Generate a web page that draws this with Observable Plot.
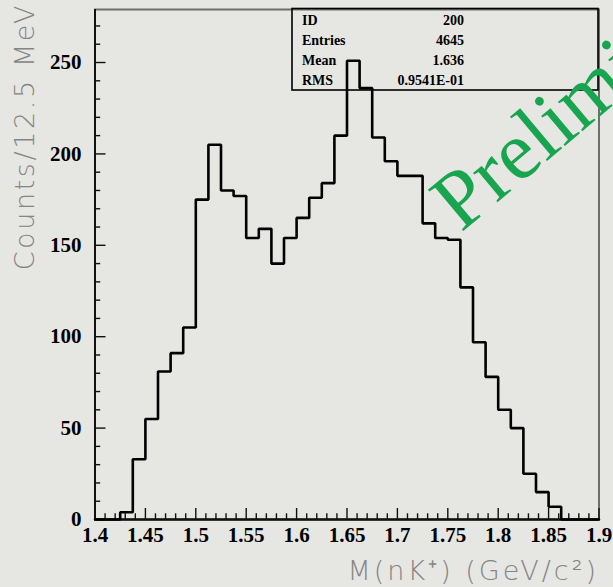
<!DOCTYPE html>
<html><head><meta charset="utf-8">
<script src="https://cdn.jsdelivr.net/npm/d3@7"></script>
<script src="https://cdn.jsdelivr.net/npm/@observablehq/plot@0.6"></script>
<style>
html,body{margin:0;padding:0;background:#e6e6e3;}
#chart{width:613px;height:587px;overflow:hidden;position:relative;}
</style></head><body><div id="chart"></div>
<script>
// Histogram: 40 bins of 12.5 MeV from 1.4 to 1.9 GeV/c^2
const binEdges = [1.4, 1.4125, 1.425, 1.4375, 1.45, 1.4625, 1.475, 1.4875, 1.5, 1.5125,
  1.525, 1.5375, 1.55, 1.5625, 1.575, 1.5875, 1.6, 1.6125, 1.625, 1.6375,
  1.65, 1.6625, 1.675, 1.6875, 1.7, 1.7125, 1.725, 1.7375, 1.75, 1.7625,
  1.775, 1.7875, 1.8, 1.8125, 1.825, 1.8375, 1.85, 1.8625, 1.875, 1.8875, 1.9];
const counts = [0, 0, 4, 33, 55, 81, 91, 105, 175, 205,
  180, 177, 154, 159, 140, 154, 165, 176, 184, 210,
  251, 236, 209, 196, 188, 188, 162, 154, 153, 127,
  97, 78, 60, 50, 25, 15, 7, 0, 0, 0];
const yTicks = [0, 50, 100, 150, 200, 250];
const xTicks = [1.4, 1.45, 1.5, 1.55, 1.6, 1.65, 1.7, 1.75, 1.8, 1.85, 1.9];
const xTickLabels = ["1.4", "1.45", "1.5", "1.55", "1.6", "1.65", "1.7", "1.75", "1.8", "1.85", "1.9"];
const statLabels = ["ID", "Entries", "Mean", "RMS"];
const statValues = ["200", "4645", "1.636", "0.9541E-01"];
const xTitle = "M(nK⁺) (GeV/c²)";
const yTitle = "Counts/12.5 MeV";
const watermark = "Preliminary";

const W = 613, H = 587, mL = 94.5, mR = 14.5, mT = 9, mB = 68;
const innerW = W - mL - mR, innerH = H - mT - mB;
const xMinor = d3.range(0, 51).map(i => 1.4 + i * 0.01).filter(v => Math.abs((v * 100) % 5) > 0.01 && Math.abs((v * 100) % 5 - 5) > 0.01);
const yMinor = d3.range(0, 280, 10).filter(v => v % 50 !== 0);
const points = binEdges.map((x, i) => ({x, y: i < counts.length ? counts[i] : 0}));
const serif = "'Liberation Serif', 'Times New Roman', serif";

const plot = Plot.plot({
  width: W, height: H,
  marginLeft: mL, marginRight: mR, marginTop: mT, marginBottom: mB,
  style: {background: "transparent", fontFamily: serif, color: "#000"},
  x: {domain: [1.4, 1.9]},
  y: {domain: [0, 279]},
  marks: [
    Plot.frame({stroke: "#6e6e6e", strokeWidth: 2}),
    Plot.ruleX(xMinor, {insetTop: innerH - 5.7, stroke: "#111", strokeWidth: 1.4}),
    Plot.ruleX(xTicks, {insetTop: innerH - 11, stroke: "#111", strokeWidth: 1.4}),
    Plot.ruleY(yMinor, {insetRight: innerW - 5.7, stroke: "#111", strokeWidth: 1.4}),
    Plot.ruleY(yTicks, {insetRight: innerW - 11, stroke: "#111", strokeWidth: 1.4}),
    Plot.ruleX([1.4], {stroke: "#111", strokeWidth: 2}),
    Plot.ruleY([0], {stroke: "#111", strokeWidth: 2.6}),
    Plot.line(points, {x: "x", y: "y", curve: "step-after", stroke: "#000", strokeWidth: 2.6, strokeLinejoin: "miter"}),
    Plot.axisY(yTicks, {tickSize: 0, tickPadding: 13.5, fontSize: 21, fontWeight: "bold", fontFamily: serif, tickFormat: d => String(d), label: null}),
    Plot.axisX(xTicks, {tickSize: 0, tickPadding: 8, fontSize: 21, fontWeight: "bold", fontFamily: serif, tickFormat: d => xTickLabels[xTicks.indexOf(d)], label: null})
  ]
});
document.getElementById("chart").appendChild(plot);

const svg = d3.select(plot);
// stats box
const box = svg.append("g").attr("text-anchor", "start");
box.append("rect").attr("x", 292).attr("y", 8.5).attr("width", 306).attr("height", 81.5)
  .attr("fill", "none").attr("stroke", "#000").attr("stroke-width", 1.6);
statLabels.forEach((s, i) => {
  box.append("text").attr("x", 302).attr("y", 25 + i * 20).attr("text-anchor", "start").text(s)
    .attr("font-family", serif).attr("font-weight", "bold").attr("font-size", 14);
  box.append("text").attr("x", 464).attr("y", 25 + i * 20).attr("text-anchor", "end").text(statValues[i])
    .attr("font-family", serif).attr("font-weight", "bold").attr("font-size", 14);
});
// axis titles
const sans = "'DejaVu Sans ExtraLight', 'DejaVu Sans', sans-serif";
svg.append("text").attr("transform", "translate(34,3) rotate(-90)").attr("text-anchor", "end")
  .attr("font-family", sans).attr("font-weight", 200).attr("font-size", 27).attr("letter-spacing", 2.6)
  .attr("fill", "#858585").text(yTitle);
svg.append("text").attr("x", 599).attr("y", 580).attr("text-anchor", "end")
  .attr("font-family", sans).attr("font-weight", 200).attr("font-size", 27).attr("letter-spacing", 3)
  .attr("fill", "#858585").text(xTitle);
// watermark
svg.append("text").attr("transform", "translate(461,233) rotate(-40)").attr("text-anchor", "start")
  .attr("font-family", serif).attr("font-size", 83).attr("fill", "#19a54f").text(watermark);
</script></body></html>
